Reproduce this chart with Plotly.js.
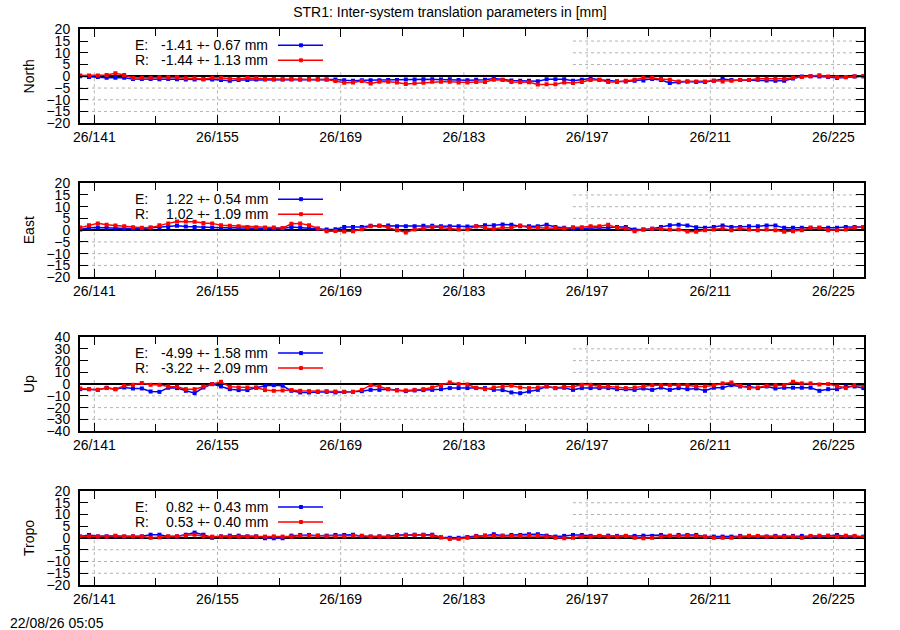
<!DOCTYPE html>
<html>
<head>
<meta charset="utf-8">
<script src="https://cdn.plot.ly/plotly-3.0.1.min.js"></script>
<style>html,body{margin:0;padding:0;background:#fff;}#chart{width:900px;height:630px;}</style>
</head>
<body>
<div id="chart"></div>
<script>
// Day of year (2026) for each daily solution
const days = [
139.4,140.4,141.4,142.4,143.4,144.4,145.4,146.4,147.4,148.4,
149.4,150.4,151.4,152.4,153.4,154.4,155.4,156.4,157.4,158.4,
159.4,160.4,161.4,162.4,163.4,164.4,165.4,166.4,167.4,168.4,
169.4,170.4,171.4,172.4,173.4,174.4,175.4,176.4,177.4,178.4,
179.4,180.4,181.4,182.4,183.4,184.4,185.4,186.4,187.4,188.4,
189.4,190.4,191.4,192.4,193.4,194.4,195.4,196.4,197.4,198.4,
199.4,200.4,201.4,202.4,203.4,204.4,205.4,206.4,207.4,208.4,
209.4,210.4,211.4,212.4,213.4,214.4,215.4,216.4,217.4,218.4,
219.4,220.4,221.4,222.4,223.4,224.4,225.4,226.4,227.4,228.4];

const panelNames = ["North", "East", "Up", "Tropo"];
const xTickDays = [141, 155, 169, 183, 197, 211, 225];

const northE = [0,-0.3,-0.3,-0.6,-0.6,-0.6,-1.1,-1.1,-1.1,-1.3,
-1.1,-1.3,-1.4,-1.4,-1.3,-1.4,-1.6,-1.9,-1.6,-1.6,
-1.4,-1.4,-1.4,-1.4,-1.4,-1.4,-1.3,-1.3,-1.4,-1.4,
-1.7,-1.9,-1.7,-1.7,-1.7,-1.6,-1.6,-1.4,-1.4,-1.3,
-1.3,-1.4,-1.3,-1.6,-1.7,
-1.5,-1.5,-0.9,-1.5,-1.8,-1.9,-1.9,-2.1,-1.3,-1.3,
-1.3,-1.9,-1.5,-0.9,-1.5,-1.9,-2.1,-2.2,-1.9,-1.8,
-1.2,-1.6,-2.8,-2.5,-2.2,-2.4,-2.4,-1.9,-1.2,-1.6,
-1.6,-1.6,-1.5,-1.8,-1.9,-1.9,-0.9,-0.1,0,-0.1,
-0.3,-0.7,-0.4,-0.1,0];
const northR = [0.3,0.3,0.3,0.6,1.3,0.6,-0.7,-0.6,-0.6,-0.4,
-0.4,-0.4,-0.8,-0.8,-1.3,-0.6,-0.7,-1.0,-1.1,-0.7,
-0.8,-1.1,-1.3,-1.3,-1.1,-1.4,-1.4,-1.4,-1.4,-2.0,
-2.7,-2.6,-2.0,-3.1,-2.3,-2.3,-2.6,-3.3,-3.0,-2.7,
-2.3,-2.3,-2.3,-2.6,-2.6,
-2.4,-2.4,-1.5,-1.6,-2.4,-2.5,-2.5,-3.5,-3.4,-3.4,
-2.6,-2.8,-2.4,-1.6,-1.6,-2.4,-2.4,-1.9,-1.5,-0.6,
-0.6,-1.2,-1.5,-2.2,-2.2,-2.2,-2.2,-1.9,-2.2,-1.9,
-1.6,-1.6,-1.0,-1.0,-1.0,-1.0,-0.6,-0.3,0,0.4,
-0.1,-0.4,-0.3,0,0];

const eastE = [0.3,1.0,1.1,0.9,0.7,0.6,0.6,0.7,1.0,1.1,
1.4,1.9,1.6,1.4,1.1,1.0,1.0,1.0,1.0,0.9,
0.9,0.7,0.6,0.7,1.4,1.1,1.1,0.6,0.3,0.4,
1.4,1.4,1.4,1.9,1.9,2.0,1.7,1.7,1.7,1.9,
1.9,1.7,1.7,1.7,1.6,
1.7,2.1,2.1,2.4,2.3,1.7,1.7,1.7,2.3,1.4,
1.0,0.6,0.7,1.0,1.0,1.0,1.4,1.4,0.3,0.3,
0.6,1.4,2.1,2.3,2.0,1.3,1.0,1.4,2.0,1.4,
1.4,1.7,1.7,2.0,2.0,1.0,1.0,1.0,1.0,1.0,
1.0,1.0,1.4,1.4,1.4];
const eastR = [1.1,2.1,2.9,2.3,2.0,1.7,1.3,1.0,1.1,2.1,
2.9,3.7,3.7,3.6,3.1,2.9,2.1,1.9,1.7,1.4,
1.3,1.1,1.1,0.9,2.7,2.9,2.1,0.7,-0.4,-0.3,
-0.6,-0.4,0.4,1.7,1.9,1.1,0,-1.0,0.3,0.7,
1.4,1.1,0.7,0.3,0.4,
1.7,0.9,0.6,1.0,1.0,2.0,1.0,1.0,1.0,1.0,
0.7,1.3,1.3,1.7,1.7,2.3,1.0,0.7,-0.4,0.3,
0.6,0.6,0.3,0.3,-0.6,-0.7,0,0.3,0.7,0,
0.7,0.3,0,0.3,0,-0.7,-0.4,0,1.0,1.0,
0,0,0.3,1.0,1.4];

const upE = [-4.3,-4.3,-4.9,-3.1,-4.3,-2.9,-3.7,-3.7,-6.3,-6.6,
-3.1,-3.4,-5.7,-7.7,-2.9,0,-2.0,-4.3,-5.1,-5.1,
-3.1,-1.4,-0.9,-1.4,-5.7,-7.1,-7.1,-6.6,-6.6,-7.1,
-6.6,-6.6,-6.0,-4.9,-4.9,-4.3,-5.1,-6.0,-5.4,-5.1,
-4.9,-4.3,-3.4,-3.4,-3.4,
-3.4,-3.4,-4.9,-5.1,-7.1,-7.7,-6.3,-4.9,-2.0,-3.4,
-3.1,-4.9,-3.4,-3.4,-3.4,-3.4,-4.3,-4.3,-4.9,-3.7,
-4.9,-2.9,-4.9,-3.4,-4.3,-3.7,-5.7,-3.1,-3.1,-0.9,
-2.0,-2.0,-3.4,-2.0,-3.7,-3.1,-3.1,-3.1,-3.1,-5.7,
-4.3,-4.3,-2.0,-2.0,-3.4];
const upR = [-3.7,-4.3,-4.9,-3.4,-4.3,-1.4,-0.6,0.9,-0.6,-0.6,
-2.0,-2.3,-4.3,-4.3,-2.0,0,2.0,-2.3,-2.9,-2.9,
-2.9,-5.1,-5.7,-5.4,-5.1,-5.7,-6.0,-6.3,-6.0,-6.3,
-6.6,-6.6,-4.9,-0.9,-2.0,-4.3,-5.4,-5.4,-4.9,-4.3,
-2.9,-0.9,1.4,0,-0.3,
-3.1,-4.3,-2.9,-2.0,-1.4,-2.9,-3.4,-2.9,-2.0,-3.4,
-2.3,-2.3,-0.6,-0.6,-2.0,-2.0,-2.9,-3.4,-2.9,-2.0,
-0.9,-0.9,-0.9,-0.9,-0.9,-2.0,-2.0,-0.9,0.6,1.4,
-1.4,-3.4,-2.9,-1.4,-0.9,-0.9,2.0,0.6,0.6,-0.3,
0,-2.0,-3.4,-0.9,-1.4];

const tropoE = [0.6,1.3,0.7,0.7,0.7,0.6,0.7,0.7,1.4,1.4,
0.6,0.7,1.4,2.3,1.4,0.1,0.7,1.0,1.0,0.7,
0.7,-0.1,-0.1,-0.1,1.0,1.3,1.3,1.0,1.0,1.3,
1.3,1.4,0.7,0.6,0.7,0.7,1.3,1.4,1.4,1.4,
1.4,0.3,0.1,0.1,0.4,
0.9,1.0,1.6,1.0,1.3,1.3,1.6,1.6,1.0,0.6,
0.9,1.3,1.3,0.9,0.9,1.0,0.9,0.9,0.9,1.0,
0.9,1.3,1.0,1.3,1.3,1.3,0.6,0.6,0.6,0.6,
0.9,0.9,0.6,0.6,0.9,0.9,0.9,0.9,0.6,0.6,
0.9,1.3,0.6,0.6,0.6];
const tropoR = [0.6,0.7,0.6,0.6,1.0,0.7,0.7,0.6,0.1,0.3,
0.7,0.7,1.0,1.4,0.7,0.6,0.6,0.6,0.6,0.6,
0.6,0.6,0.7,0.6,0.6,1.0,1.0,1.0,0.7,0.7,
0.7,1.0,1.0,0.6,0.6,0.6,1.0,1.3,1.3,1.3,
1.0,0.3,-0.4,-0.4,0.1,
0.7,1.0,0.9,0.9,0.9,0.9,1.0,0.9,0.6,0.1,
-0.1,0.1,0.6,0.6,0.9,0.6,0.6,0.9,0.1,-0.1,
0.1,0.6,0.9,0.9,1.0,0.9,0.6,0.1,0.1,0.1,
0.6,0.9,0.9,0.6,0.6,0.6,0.6,0.1,0.9,1.0,
1.0,0.6,1.0,0.9,0.4];

// Legend statistics (mean +- sigma, mm)
const legendE = ["-1.41 +- 0.67 mm", "1.22 +- 0.54 mm", "-4.99 +- 1.58 mm", "0.82 +- 0.43 mm"];
const legendR = ["-1.44 +- 1.13 mm", "1.02 +- 1.09 mm", "-3.22 +- 2.09 mm", "0.53 +- 0.40 mm"];
const yLimits = [20, 20, 40, 20];
const yStep = [5, 5, 10, 5];

const seriesE = [northE, eastE, upE, tropoE];
const seriesR = [northR, eastR, upR, tropoR];

const BLUE = "#0000ff", RED = "#ff0000";
const GRID = "#b4b4b4";
const FONT = "Liberation Sans, Arial, sans-serif";
const FS = 14;
const W = 900, H = 630, L = 80, R = 36;
const plotW = W - L - R;
const panelTops = [29.3, 183.2, 337.1, 491];
const panelH = 94;
const xRange = [139.375, 228.47];
const keyRightPx = 573;      // right edge of the opaque key box
const keyBottomFrac = 0.567; // bottom of the key box, as fraction of panel height

const data = [];
const layout = {
  width: W, height: H,
  margin: {l: L, r: R, t: 0, b: 0},
  paper_bgcolor: "#fff", plot_bgcolor: "#fff",
  showlegend: false,
  font: {family: FONT, size: FS, color: "#000"},
  title: {text: "STR1: Inter-system translation parameters in [mm]",
          x: 0.5, xref: "container", y: (H - 12) / H, yref: "container",
          xanchor: "center", yanchor: "middle",
          font: {family: FONT, size: FS, color: "#000"}},
  shapes: [], annotations: []
};

function px2domX(p) { return (p - L) / plotW; }
function px2dataX(p) { return xRange[0] + (p - L) / plotW * (xRange[1] - xRange[0]); }

for (let k = 0; k < 4; k++) {
  const n = k === 0 ? "" : String(k + 1);
  const xa = "x" + n, ya = "y" + n;
  const top = panelTops[k], bot = top + panelH;
  const lim = yLimits[k];
  data.push({x: days, y: seriesE[k], xaxis: xa, yaxis: ya, type: "scatter", mode: "lines+markers",
             line: {color: BLUE, width: 1.5}, marker: {color: BLUE, symbol: "square", size: 4},
             name: "E", hoverinfo: "x+y"});
  data.push({x: days, y: seriesR[k], xaxis: xa, yaxis: ya, type: "scatter", mode: "lines+markers",
             line: {color: RED, width: 1.5}, marker: {color: RED, symbol: "square", size: 4},
             name: "R", hoverinfo: "x+y"});

  layout["xaxis" + n] = {
    anchor: ya, domain: [0, 1], range: xRange,
    tickmode: "array", tickvals: xTickDays, ticktext: xTickDays.map(d => "26/" + d),
    ticks: "inside", ticklen: 8, tickwidth: 1, tickcolor: "#000",
    showline: true, linecolor: "#000", linewidth: 2, mirror: "allticks",
    showgrid: false, zeroline: false,
    tickfont: {family: FONT, size: FS, color: "#000"},
    minor: {tickmode: "linear", tick0: 141, dtick: 7, ticks: "inside", ticklen: 7, tickcolor: "#000", showgrid: false},
    fixedrange: true
  };
  layout["yaxis" + n] = {
    anchor: xa, domain: [(H - bot) / H, (H - top) / H],
    range: [-lim, lim], tickmode: "linear", tick0: 0, dtick: yStep[k],
    ticks: "inside", ticklen: 8, tickwidth: 1, tickcolor: "#000", ticklabelstandoff: 5,
    showline: true, linecolor: "#000", linewidth: 2, mirror: "allticks",
    showgrid: false,
    zeroline: true, zerolinecolor: "#000", zerolinewidth: 2,
    tickfont: {family: FONT, size: FS, color: "#000"},
    title: {text: panelNames[k], standoff: 9, font: {family: FONT, size: FS, color: "#000"}},
    fixedrange: true
  };

  // dotted grid, interrupted by the opaque key box
  const keyBottomVal = -lim + keyBottomFrac * 2 * lim;
  const keyRightX = px2dataX(keyRightPx);
  for (let v = -lim + yStep[k]; v < lim; v += yStep[k]) {
    if (v === 0) continue;
    const x0 = v > keyBottomVal ? keyRightX : xRange[0];
    layout.shapes.push({type: "line", xref: xa, yref: ya, x0: x0, x1: xRange[1], y0: v, y1: v,
                        line: {color: GRID, width: 1, dash: "dot"}, layer: "below"});
  }
  xTickDays.forEach(d => {
    const y1 = d < keyRightX ? keyBottomVal : lim;
    layout.shapes.push({type: "line", xref: xa, yref: ya, x0: d, x1: d, y0: -lim, y1: y1,
                        line: {color: GRID, width: 1, dash: "dot"}, layer: "below"});
  });

  const xd = xa + " domain", yd = ya + " domain";
  const rowY = [1 - 16 / panelH, 1 - 31 / panelH];
  const cols = [BLUE, RED];
  const labels = ["E:", "R:"];
  const vals = [legendE[k], legendR[k]];
  for (let r = 0; r < 2; r++) {
    layout.annotations.push({xref: xd, yref: yd, x: px2domX(133), y: rowY[r], xanchor: "left", yanchor: "middle",
                             text: labels[r], showarrow: false, font: {family: FONT, size: FS, color: "#000"}});
    layout.annotations.push({xref: xd, yref: yd, x: px2domX(270), y: rowY[r], xanchor: "right", yanchor: "middle",
                             text: vals[r], showarrow: false, font: {family: FONT, size: FS, color: "#000"}});
    layout.shapes.push({type: "line", xref: xd, yref: yd, x0: px2domX(278), x1: px2domX(323), y0: rowY[r], y1: rowY[r],
                        line: {color: cols[r], width: 1.5}, layer: "above"});
    layout.shapes.push({type: "rect", xref: xd, yref: yd, x0: px2domX(299.5), x1: px2domX(302.5),
                        y0: rowY[r] - 1.5 / panelH, y1: rowY[r] + 1.5 / panelH,
                        fillcolor: cols[r], line: {color: cols[r], width: 1}, layer: "above"});
  }
}

layout.annotations.push({xref: "paper", yref: "paper", x: px2domX(8), y: (H - 623) / H,
                         xanchor: "left", yanchor: "middle", text: "22/08/26 05:05", showarrow: false,
                         font: {family: FONT, size: FS, color: "#000"}});

Plotly.newPlot("chart", data, layout, {displayModeBar: false, staticPlot: true});
</script>
</body>
</html>
